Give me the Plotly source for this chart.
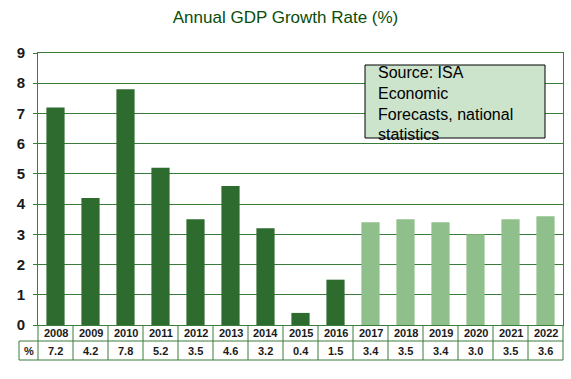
import plotly.graph_objects as go

years = ["2008", "2009", "2010", "2011", "2012", "2013", "2014", "2015",
         "2016", "2017", "2018", "2019", "2020", "2021", "2022"]
growth = [7.2, 4.2, 7.8, 5.2, 3.5, 4.6, 3.2, 0.4, 1.5, 3.4, 3.5, 3.4, 3.0, 3.5, 3.6]
is_forecast = [False] * 9 + [True] * 6
y_ticks = list(range(0, 10))

DARK = "#2e6b2e"
LIGHT = "#8fbf8a"
LINE = "#3a7d3a"
FONT = "Liberation Sans, Arial, sans-serif"

W, H = 571, 379
L, R, T, B = 38, 8, 53, 54
pw = W - L - R
ph = H - T - B

def px(x):
    return (x - L) / pw

def py(y):
    return (H - B - y) / ph

fig = go.Figure()
fig.add_trace(go.Bar(
    x=years, y=growth,
    marker=dict(color=[LIGHT if f else DARK for f in is_forecast], line=dict(width=0)),
    width=0.52, hoverinfo="x+y",
))

shapes = []
n = len(years)
row1 = py(341)
row2 = py(360)
left_ext = px(19)
for k in range(n + 1):
    xp = k / n
    shapes.append(dict(type="line", xref="paper", yref="paper", x0=xp, x1=xp,
                       y0=0, y1=row2, line=dict(color=LINE, width=1)))
shapes.append(dict(type="line", xref="paper", yref="paper", x0=left_ext, x1=left_ext,
                   y0=row1, y1=row2, line=dict(color=LINE, width=1)))
for yy in (row1, row2):
    shapes.append(dict(type="line", xref="paper", yref="paper", x0=left_ext, x1=1,
                       y0=yy, y1=yy, line=dict(color=LINE, width=1)))
shapes.append(dict(type="rect", xref="paper", yref="paper",
                   x0=px(365), x1=px(545), y0=py(138), y1=py(65),
                   fillcolor="#cce3cc", line=dict(color="black", width=1)))

annotations = []
tfont = dict(family=FONT, size=11, color="#1a1a1a")
for i, (yr, v) in enumerate(zip(years, growth)):
    annotations.append(dict(x=i, y=py(333), xref="x", yref="paper", text=f"<b>{yr}</b>",
                            showarrow=False, font=tfont, xanchor="center", yanchor="middle"))
    annotations.append(dict(x=i, y=py(350.5), xref="x", yref="paper", text=f"<b>{v:.1f}</b>",
                            showarrow=False, font=tfont, xanchor="center", yanchor="middle"))
annotations.append(dict(x=px(28.5), y=py(350.5), xref="paper", yref="paper", text="<b>%</b>",
                        showarrow=False, font=tfont, xanchor="center", yanchor="middle"))
annotations.append(dict(x=px(376), y=py(62), xref="paper", yref="paper",
                        text="Source: ISA<br>Economic<br>Forecasts, national<br>statistics",
                        showarrow=False, align="left", xanchor="left", yanchor="top",
                        font=dict(family=FONT, size=16, color="black")))

fig.update_layout(
    width=W, height=H,
    margin=dict(l=L, r=R, t=T, b=B, autoexpand=False),
    paper_bgcolor="white", plot_bgcolor="white",
    showlegend=False,
    title=dict(text="Annual GDP Growth Rate (%)", x=0.5, xanchor="center",
               y=1 - 11 / H, yanchor="top", automargin=False,
               font=dict(family=FONT, size=17, color="#0a4d0a")),
    xaxis=dict(type="category", range=[-0.5, n - 0.5], showticklabels=False, ticks="",
               showline=True, linecolor=LINE, linewidth=1, mirror=True, automargin=False,
               showgrid=False, zeroline=False, fixedrange=True),
    yaxis=dict(range=[0, 9], tickvals=y_ticks, ticktext=[f"<b>{t}</b>" for t in y_ticks],
               ticks="outside", ticklen=4, tickcolor=LINE, automargin=False,
               showline=True, linecolor=LINE, linewidth=1, mirror=True,
               showgrid=True, gridcolor=LINE, gridwidth=1, zeroline=False,
               tickfont=dict(family=FONT, size=15, color="#1a1a1a"),
               ticklabelstandoff=5, fixedrange=True),
    shapes=shapes,
    annotations=annotations,
    font=dict(family=FONT),
)

fig.write_html("out.html", config={"displayModeBar": False},
               post_script="document.body.style.margin='0';document.body.style.overflow='hidden';")
